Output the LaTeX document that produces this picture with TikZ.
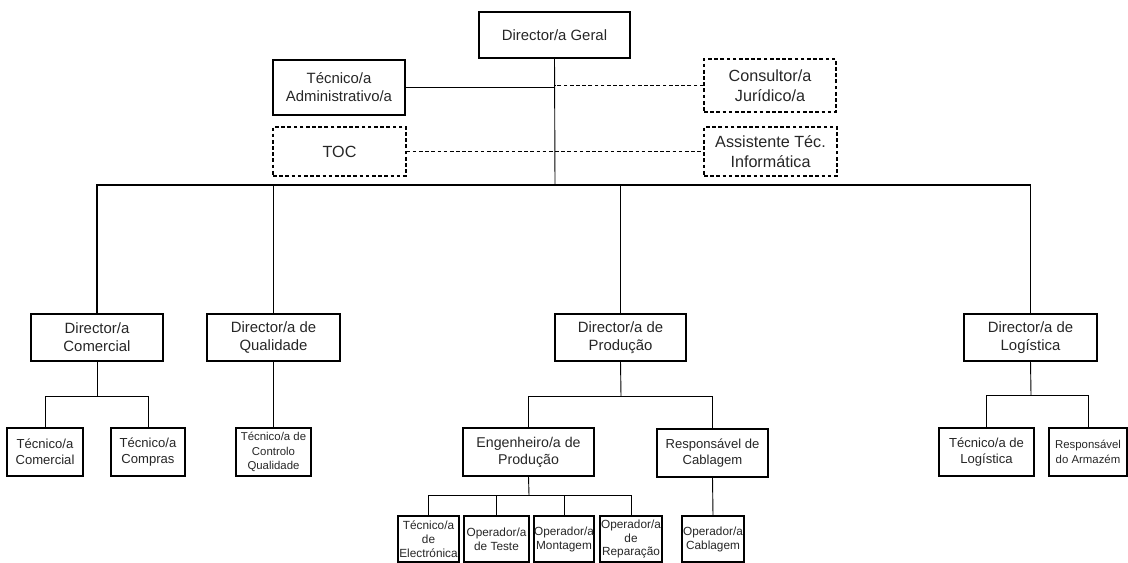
\documentclass[tikz,border=0pt]{standalone}
\usepackage{fontspec}
\setmainfont{Liberation Sans}

\tikzset{
  orgbox/.style={draw, line width=0.8pt, inner sep=0pt, align=center, text=black!85, anchor=center},
  dashbox/.style={orgbox, dash pattern=on 2.6pt off 1.8pt},
  link/.style={line width=0.65pt},
  buslink/.style={line width=0.8pt},
  dashlink/.style={line width=0.65pt, dash pattern=on 2.6pt off 1.8pt},
  fgeral/.style={font=\fontsize{10.6pt}{13pt}\selectfont},
  fbig/.style={font=\fontsize{10.6pt}{12.9pt}\selectfont},
  fside/.style={font=\fontsize{11.5pt}{14.4pt}\selectfont},
  fmid/.style={font=\fontsize{9.3pt}{11.4pt}\selectfont},
  feng/.style={font=\fontsize{10.1pt}{11.9pt}\selectfont},
  fsmall/.style={font=\fontsize{8.1pt}{10.3pt}\selectfont},
  ftiny/.style={font=\fontsize{8.4pt}{9.9pt}\selectfont},
}

% box given by its corners (left, top, right, bottom) in pixel units
\newcommand\orgnode[7]{%
  \node[#6, minimum width={(#4-#2)*0.025cm}, minimum height={(#5-#3)*0.025cm}]
    (#1) at ({(#2+#4)/2},{(#3+#5)/2}) {#7};}

\begin{document}
\begin{tikzpicture}[x=0.025cm, y=-0.025cm]
\useasboundingbox (0,0) rectangle (1128,563);

% top level
\orgnode{geral}{479}{12}{630}{58}{orgbox,fgeral}{Director/a Geral}
\orgnode{adm}{273}{60}{405}{115}{orgbox,fbig}{Técnico/a\\Administrativo/a}
\orgnode{cons}{704}{59}{836}{112}{dashbox,fside}{Consultor/a\\Jurídico/a}
\orgnode{toc}{273}{127}{406}{176}{dashbox,fside}{TOC}
\orgnode{asst}{704}{127}{837}{176}{dashbox,fside}{Assistente Téc.\\Informática}

% directors
\orgnode{dcom}{31}{314}{163}{361}{orgbox,fbig}{Director/a\\Comercial}
\orgnode{dqual}{207}{314}{340}{361}{orgbox,fbig}{Director/a de\\Qualidade}
\orgnode{dprod}{555}{314}{686}{361}{orgbox,fbig}{Director/a de\\Produção}
\orgnode{dlog}{964}{314}{1097}{361}{orgbox,fbig}{Director/a de\\Logística}

% third level
\orgnode{tcom}{7}{428}{83}{476}{orgbox,fmid}{Técnico/a\\Comercial}
\orgnode{tcomp}{111}{428}{185}{476}{orgbox,fmid}{Técnico/a\\Compras}
\orgnode{tcq}{236}{428}{311}{476}{orgbox,fsmall}{Técnico/a de\\Controlo\\Qualidade}
\orgnode{eng}{463}{428}{594}{476}{orgbox,feng}{Engenheiro/a de\\Produção}
\orgnode{rcab}{657}{429}{768}{477}{orgbox,fmid}{Responsável de\\Cablagem}
\orgnode{tlog}{939}{428}{1034}{476}{orgbox,fmid}{Técnico/a de\\Logística}
\orgnode{arm}{1049}{428}{1127}{476}{orgbox,fsmall}{Responsável\\do Armazém}

% production floor
\orgnode{telec}{398}{516}{459}{562}{orgbox,ftiny}{Técnico/a\\de\\Electrónica}
\orgnode{oteste}{464}{516}{529}{562}{orgbox,ftiny}{Operador/a\\de Teste}
\orgnode{omont}{534}{516}{594}{562}{orgbox,ftiny}{Operador/a\\Montagem}
\orgnode{orep}{600}{516}{662}{562}{orgbox,ftiny}{Operador/a\\de\\Reparação}
\orgnode{ocab}{682}{516}{744}{562}{orgbox,ftiny}{Operador/a\\Cablagem}

% junction points
\coordinate (hub) at (555,185);
\coordinate (jcom) at (97,396);
\coordinate (jprod) at (621,396);
\coordinate (jeng) at (529,495);
\coordinate (jlog) at (1031,395);

% staff links
\draw[link] (geral.south) -- (hub);
\draw[link] (adm.east) -- (adm.east -| geral.south);
\draw[dashlink] (cons.west) -- (cons.west -| geral.south);
\draw[dashlink] (toc.east) -- (asst.west);

% main bus to the directors
\draw[buslink] (hub) -| (dcom.north);
\draw[buslink] (hub) -| (dqual.north);
\draw[buslink] (hub) -| (dprod.north);
\draw[buslink] (hub) -| (dlog.north);

% commercial
\draw[link] (dcom.south) -- (jcom);
\draw[link] (jcom) -| (tcom.north);
\draw[link] (jcom) -| (tcomp.north);

% quality
\draw[link] (dqual.south) -- (tcq.north);

% production
\draw[link] (dprod.south) -- (jprod);
\draw[link] (jprod) -| (eng.north);
\draw[link] (jprod) -| (rcab.north);
\draw[link] (eng.south) -- (jeng);
\draw[link] (jeng) -| (telec.north);
\draw[link] (jeng) -| (oteste.north);
\draw[link] (jeng) -| (omont.north);
\draw[link] (jeng) -| (orep.north);
\draw[link] (rcab.south) -- (ocab.north);

% logistics
\draw[link] (dlog.south) -- (jlog);
\draw[link] (jlog) -| (tlog.north);
\draw[link] (jlog) -| (arm.north);
\end{tikzpicture}
\end{document}
